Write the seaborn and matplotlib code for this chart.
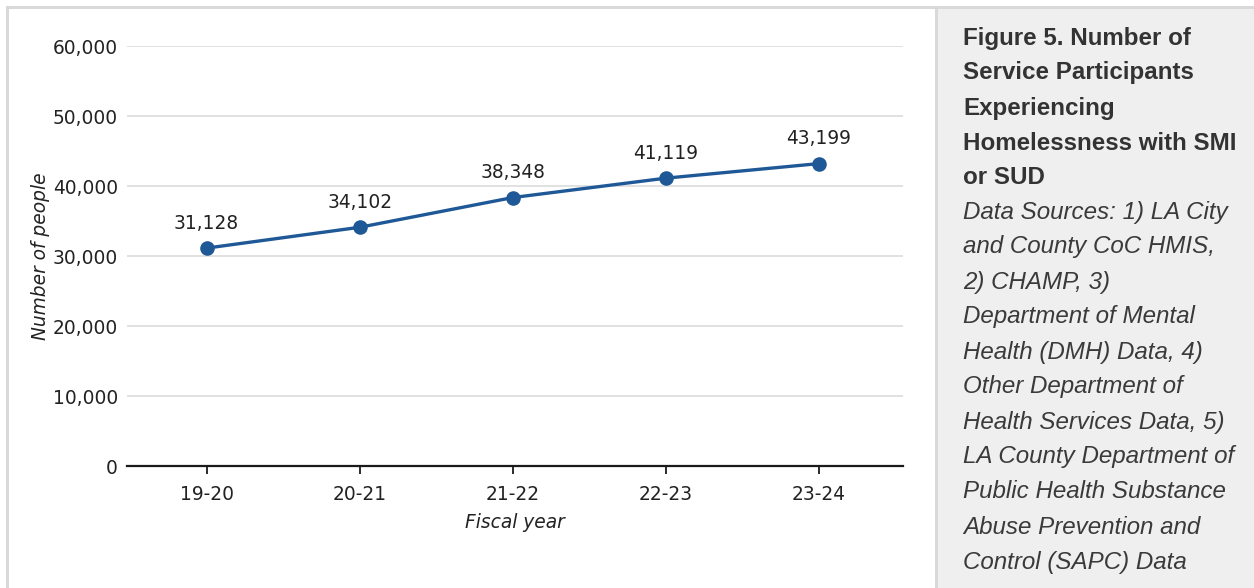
import matplotlib
matplotlib.use("Agg")
import matplotlib.pyplot as plt
from matplotlib.patches import Rectangle
from matplotlib.ticker import FuncFormatter
import seaborn as sns
import pandas as pd

fiscal_years = ["19-20", "20-21", "21-22", "22-23", "23-24"]
participants = [31128, 34102, 38348, 41119, 43199]

title_lines = [
    "Figure 5. Number of",
    "Service Participants",
    "Experiencing",
    "Homelessness with SMI",
    "or SUD",
]
source_lines = [
    "Data Sources: 1) LA City",
    "and County CoC HMIS,",
    "2) CHAMP, 3)",
    "Department of Mental",
    "Health (DMH) Data, 4)",
    "Other Department of",
    "Health Services Data, 5)",
    "LA County Department of",
    "Public Health Substance",
    "Abuse Prevention and",
    "Control (SAPC) Data",
]

df = pd.DataFrame({"Fiscal year": fiscal_years, "Number of people": participants})

sns.set_theme(style="white")
plt.rcParams["font.family"] = ["DejaVu Sans"]

W, H = 1254, 588
fig = plt.figure(figsize=(W / 100, H / 100), dpi=100)
fig.patch.set_facecolor("white")

# panel backgrounds and frame, positioned in pixels
def px(x, y, w, h):
    return (x / W, 1 - (y + h) / H, w / W, h / H)

r = px(938, 7, 316, 581)
fig.patches.append(Rectangle(r[:2], r[2], r[3], transform=fig.transFigure,
                             facecolor="#efefef", edgecolor="none", zorder=0))
border = "#d9d9d9"
for (x, y, w, h) in [(6, 6, 1248, 3), (6, 6, 3, 582), (935, 6, 3, 582)]:
    r = px(x, y, w, h)
    fig.patches.append(Rectangle(r[:2], r[2], r[3], transform=fig.transFigure,
                                 facecolor=border, edgecolor="none", zorder=1))

ax = fig.add_axes(px(127, 46, 776, 420))
line_color = "#1f5896"
sns.lineplot(data=df, x="Fiscal year", y="Number of people", ax=ax,
             color=line_color, linewidth=2.4, marker="o", markersize=10.5,
             markeredgewidth=0, sort=False)

fs = 13.4
ax.set_ylim(0, 60000)
ax.set_xlim(-0.52, 4.55)
ax.set_yticks(range(0, 60001, 10000))
ax.yaxis.set_major_formatter(FuncFormatter(lambda v, p: f"{int(v):,}"))
ax.grid(axis="y", color="#dedede", linewidth=1.3)
ax.set_axisbelow(True)
for s in ["top", "right", "left"]:
    ax.spines[s].set_visible(False)
ax.spines["bottom"].set_color("#1a1a1a")
ax.spines["bottom"].set_linewidth(1.6)
ax.tick_params(axis="x", bottom=True, length=6, width=1.3, color="#1a1a1a",
               labelsize=fs, labelcolor="#222222", pad=7.5)
ax.tick_params(axis="y", left=False, length=0, labelsize=fs,
               labelcolor="#222222", pad=6.5)
ax.set_facecolor("none")

ax.set_xlabel("Fiscal year", fontsize=fs, style="italic", color="#222222", labelpad=7)
ax.set_ylabel("Number of people", fontsize=fs, style="italic", color="#222222", labelpad=2)

for i, v in enumerate(participants):
    ax.annotate(f"{v:,}", (i, v), xytext=(0, 14), textcoords="offset points",
                ha="center", va="baseline", fontsize=fs, color="#222222")

# caption panel
cap_fs = 17.4
y0 = 38
for k, t in enumerate(title_lines):
    fig.text(963 / W, 1 - (y0 + 35 * k) / H, t, ha="left", va="center",
             fontsize=cap_fs, fontweight="bold", color="#333333",
             family=["Liberation Sans", "DejaVu Sans"])
y1 = 212
for k, t in enumerate(source_lines):
    fig.text(963 / W, 1 - (y1 + 35 * k) / H, t, ha="left", va="center",
             fontsize=cap_fs, style="italic", color="#3a3a3a",
             family=["Liberation Sans", "DejaVu Sans"])

fig.savefig("out.png", dpi=100, facecolor=fig.get_facecolor())
